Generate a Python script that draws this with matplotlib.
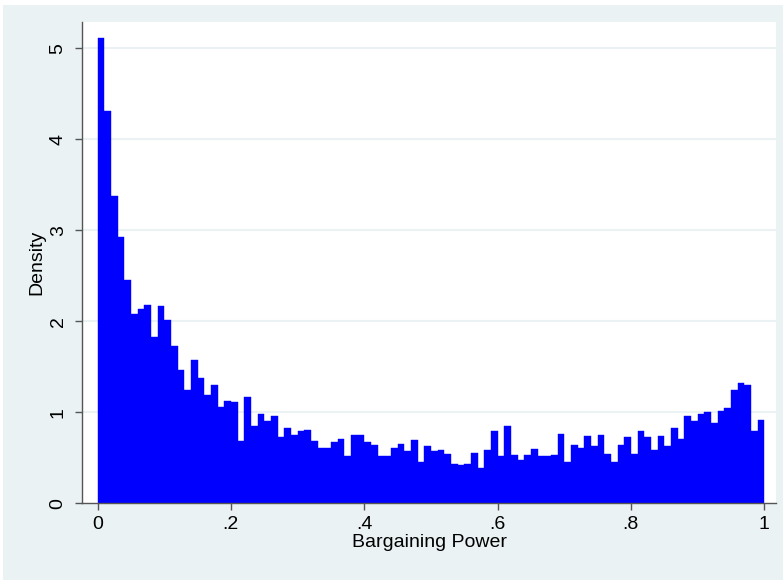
import matplotlib
matplotlib.use("Agg")
import matplotlib.pyplot as plt
import numpy as np

plt.rcParams["font.family"] = ["Liberation Sans", "DejaVu Sans"]

# Histogram bin edges (100 bins of width 0.01) and densities
bin_edges = np.linspace(0.0, 1.0, 101)
density = [
    5.11, 4.31, 3.38, 2.93, 2.45, 2.08, 2.14, 2.18, 1.83, 2.17,
    2.01, 1.73, 1.47, 1.25, 1.58, 1.38, 1.19, 1.30, 1.06, 1.12,
    1.11, 0.68, 1.17, 0.85, 0.98, 0.90, 0.96, 0.73, 0.83, 0.75,
    0.79, 0.81, 0.68, 0.61, 0.61, 0.67, 0.71, 0.52, 0.75, 0.75,
    0.67, 0.64, 0.52, 0.52, 0.61, 0.65, 0.58, 0.70, 0.45, 0.63,
    0.58, 0.59, 0.54, 0.43, 0.42, 0.43, 0.55, 0.39, 0.59, 0.80,
    0.52, 0.85, 0.53, 0.48, 0.53, 0.60, 0.52, 0.52, 0.53, 0.76,
    0.45, 0.64, 0.61, 0.74, 0.63, 0.75, 0.54, 0.45, 0.64, 0.73,
    0.54, 0.79, 0.73, 0.59, 0.74, 0.63, 0.83, 0.71, 0.96, 0.90,
    0.98, 1.00, 0.88, 1.01, 1.05, 1.25, 1.32, 1.30, 0.79, 0.92,
]
x_ticks = [0, 0.2, 0.4, 0.6, 0.8, 1.0]
x_ticklabels = ["0", ".2", ".4", ".6", ".8", "1"]
y_ticks = [0, 1, 2, 3, 4, 5]

bg = "#EAF2F3"
axis_col = "#555555"

fig = plt.figure(figsize=(7.83, 5.80), dpi=100, facecolor="white")
# Stata-style graph region (slightly inset from the image edge)
fig.patches.append(plt.Rectangle((3 / 783, 0), 1, 1 - 5 / 580, transform=fig.transFigure,
                                 facecolor=bg, edgecolor="none", zorder=-10))

ax = fig.add_axes([82 / 783, 1 - 503.3 / 580, 694 / 783, 481.3 / 580])
ax.set_facecolor("white")

ax.bar(bin_edges[:-1], density, width=np.diff(bin_edges), align="edge",
       color="#0000FF", edgecolor="#0000FF", linewidth=0.3, zorder=2)

ax.set_xlim(-0.0233, 1.0177)
ax.set_ylim(0, 5.29)

ax.set_yticks(y_ticks)
ax.set_yticklabels([str(v) for v in y_ticks], rotation=90, va="center")
ax.set_xticks(x_ticks)
ax.set_xticklabels(x_ticklabels)

for v in y_ticks[1:]:
    ax.axhline(v, color=bg, linewidth=1.5, zorder=1)

for side in ["top", "right"]:
    ax.spines[side].set_visible(False)
for side in ["left", "bottom"]:
    ax.spines[side].set_color(axis_col)
    ax.spines[side].set_linewidth(1.0)

ax.tick_params(direction="out", length=5, width=1.0, color=axis_col,
               labelsize=14, labelcolor="black")
ax.tick_params(axis="y", pad=6)
ax.tick_params(axis="x", pad=4)

ax.set_xlabel("Bargaining Power", fontsize=14, labelpad=1)
ax.set_ylabel("Density", fontsize=14, labelpad=3)

fig.savefig("out.png", dpi=100, facecolor=fig.get_facecolor())
